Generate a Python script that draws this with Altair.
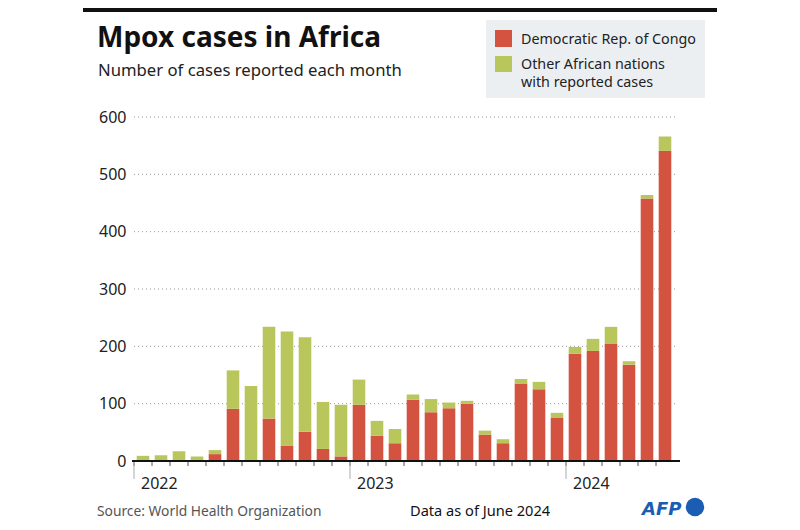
import altair as alt
import pandas as pd

# ---- data ----
months = ["2022-01","2022-02","2022-03","2022-04","2022-05","2022-06","2022-07","2022-08","2022-09","2022-10","2022-11","2022-12",
          "2023-01","2023-02","2023-03","2023-04","2023-05","2023-06","2023-07","2023-08","2023-09","2023-10","2023-11","2023-12",
          "2024-01","2024-02","2024-03","2024-04","2024-05","2024-06"]
drc = [0, 0, 0, 0, 12, 91, 0, 74, 27, 51, 21, 8,
       98, 44, 31, 107, 85, 92, 100, 46, 31, 135, 125, 75,
       187, 192, 204, 168, 458, 541]
other = [9, 10, 17, 8, 7, 67, 131, 160, 199, 165, 82, 90,
         44, 26, 25, 9, 23, 10, 5, 7, 7, 8, 13, 9,
         12, 21, 30, 6, 6, 25]
years = ["2022", "2023", "2024"]
y_ticks = [0, 100, 200, 300, 400, 500, 600]
series = ["Democratic Rep. of Congo", "Other African nations with reported cases"]

RED = "#d35240"
GREEN = "#b8c65c"
BLUE = "#1a5db3"
FONT = "Noto Sans"

# ---- layout ----
W, H = 546, 344
OX, OY = 134, 117  # page coords of plot origin
def px(x):
    return x - OX
def py(y):
    return y - OY

XMAX = W / 18.0

idx = list(range(len(months)))
bars = pd.DataFrame({
    "month": months * 2,
    "i": idx * 2,
    "series": [series[0]] * len(months) + [series[1]] * len(months),
    "lo": [0] * len(months) + drc,
    "hi": drc + [d + o for d, o in zip(drc, other)],
})
bars["x0"] = bars["i"] + 0.15
bars["x1"] = bars["i"] + 0.85

xs = alt.Scale(domain=[0, XMAX], nice=False, zero=False)
ys = alt.Scale(domain=[0, 600], nice=False)

grid = alt.Chart(pd.DataFrame({"v": y_ticks[1:]})).mark_rule(
    color="#9a9a9a", strokeDash=[1, 3], strokeWidth=1
).encode(
    y=alt.Y("v:Q", scale=ys, axis=alt.Axis(values=y_ticks, labelFontSize=16, labelFont=FONT,
                                           labelColor="#222", domain=False, ticks=False,
                                           labelPadding=8, grid=False, title=None)),
    x=alt.value(0), x2=alt.value(W - 2),
)

bar = alt.Chart(bars).mark_bar().encode(
    x=alt.X("x0:Q", scale=xs, axis=None),
    x2="x1:Q",
    y=alt.Y("lo:Q", scale=ys),
    y2="hi:Q",
    color=alt.Color("series:N", scale=alt.Scale(domain=series, range=[RED, GREEN]), legend=None),
)

mticks = alt.Chart(pd.DataFrame({"k": idx})).mark_rule(color="#555", strokeWidth=1).encode(
    x=alt.X("k:Q", scale=xs), y=alt.value(H), y2=alt.value(H + 5)
)
yticks_df = pd.DataFrame({"k": [0, 12, 24], "year": years})
yrticks = alt.Chart(yticks_df).mark_rule(color="#aaa", strokeWidth=1).encode(
    x=alt.X("k:Q", scale=xs), y=alt.value(H), y2=alt.value(H + 18)
)
yrlabels = alt.Chart(yticks_df).mark_text(align="left", baseline="alphabetic", dx=7,
                                          fontSize=16, font=FONT, color="#222").encode(
    x=alt.X("k:Q", scale=xs), y=alt.value(py(489)), text="year:N"
)
baseline = alt.Chart(pd.DataFrame({"a": [0]})).mark_rule(color="#111", strokeWidth=2).encode(
    x=alt.value(-2), x2=alt.value(W), y=alt.value(H)
)

one = pd.DataFrame({"a": [0]})
def txt(s, x, y, size, color="#222", weight="normal", align="left", style="normal", font=FONT):
    return alt.Chart(one).mark_text(text=s, align=align, baseline="alphabetic", fontSize=size,
                                    fontWeight=weight, color=color, font=font, fontStyle=style).encode(
        x=alt.value(px(x)), y=alt.value(py(y)))

def rect(x0, y0, x1, y1, color):
    return alt.Chart(one).mark_rect(color=color).encode(
        x=alt.value(px(x0)), x2=alt.value(px(x1)), y=alt.value(py(y0)), y2=alt.value(py(y1)))

topbar = rect(83, 8, 717, 12, "#111")
legbox = rect(486, 20, 705, 98, "#eceff2")
legred = rect(495, 30, 512, 47, RED)
leggreen = rect(495, 56, 512, 72, GREEN)

texts = [
    txt("Mpox cases in Africa", 97, 47, 28, color="#111", weight="bold"),
    txt("Number of cases reported each month", 98, 76, 16.7),
    txt("Democratic Rep. of Congo", 521, 44, 14.3),
    txt("Other African nations", 521, 69, 14.3),
    txt("with reported cases", 521, 87, 14.3),
    txt("Source: World Health Organization", 97, 516, 13.8, color="#555"),
    txt("Data as of June 2024", 410, 516, 14.6, color="#111"),
    txt("AFP", 642, 515, 18, color=BLUE, weight="bold", style="italic", font="DejaVu Sans"),
]
logo = alt.Chart(one).mark_point(filled=True, shape="circle", size=340, color=BLUE, opacity=1).encode(
    x=alt.value(px(695)), y=alt.value(py(507)))

chart = alt.layer(
    topbar, legbox, legred, leggreen, grid, bar, mticks, yrticks, yrlabels, baseline, *texts, logo
).properties(
    width=W, height=H,
    background="white",
    autosize=alt.AutoSizeParams(type="none"),
    padding={"left": 126, "top": 109, "right": 112, "bottom": 61},
).configure_view(strokeWidth=0, stroke="transparent")

chart.save("out.html", embed_options={"renderer": "svg", "actions": False})
